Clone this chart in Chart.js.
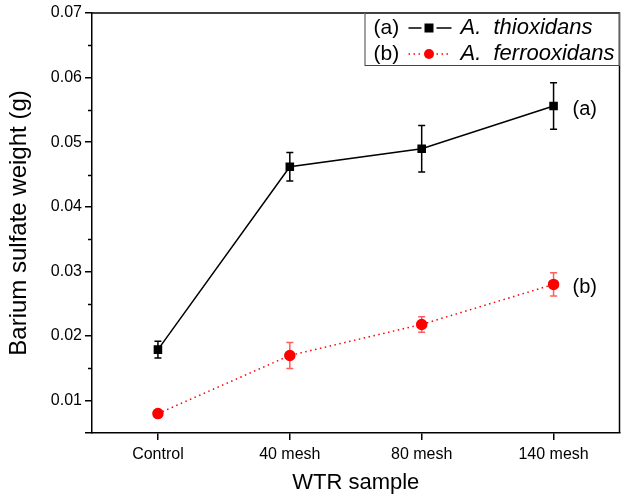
<!DOCTYPE html>
<html><head><meta charset="utf-8">
<script src="https://cdn.jsdelivr.net/npm/chart.js@4/dist/chart.umd.min.js"></script>
<style>html,body{margin:0;padding:0;background:#fff;}#wrap{width:626px;height:496px;}</style>
</head><body><div id="wrap"><canvas id="c" width="626" height="496"></canvas></div>
<script>
const categories = ['Control', '40 mesh', '80 mesh', '140 mesh'];
const thioValues = [0.0179, 0.0462, 0.0490, 0.0556];
const thioErrors = [0.0013, 0.0022, 0.0036, 0.0036];
const ferroValues = [0.0080, 0.0170, 0.0218, 0.0280];
const ferroErrors = [0.0003, 0.0020, 0.0012, 0.0018];
const seriesTags = ['(a)', '(b)'];
const seriesNames = ['A. thioxidans', 'A. ferrooxidans'];
const yMin = 0.005, yMax = 0.07, yMajor = 0.01, yMinor = 0.005;

const FONT = "'Liberation Sans', Arial, sans-serif";
const errs = [thioErrors, ferroErrors];
const errColors = ['#000', 'rgba(255,40,40,0.75)'];

const extras = {
  id: 'extras',
  beforeDatasetsDraw(chart) {
    const ctx = chart.ctx, ys = chart.scales.y;
    chart.data.datasets.forEach((ds, di) => {
      const meta = chart.getDatasetMeta(di);
      ctx.save();
      ctx.strokeStyle = errColors[di];
      ctx.lineWidth = 1.5;
      meta.data.forEach((pt, i) => {
        const v = ds.data[i], e = errs[di][i];
        const y1 = ys.getPixelForValue(v + e), y2 = ys.getPixelForValue(v - e);
        const x = pt.x, cw = 3.5;
        ctx.beginPath();
        ctx.moveTo(x, y1); ctx.lineTo(x, y2);
        ctx.moveTo(x - cw, y1); ctx.lineTo(x + cw, y1);
        ctx.moveTo(x - cw, y2); ctx.lineTo(x + cw, y2);
        ctx.stroke();
      });
      ctx.restore();
    });
  },
  afterDraw(chart) {
    const ctx = chart.ctx, a = chart.chartArea, ys = chart.scales.y;
    ctx.save();
    ctx.strokeStyle = '#000'; ctx.lineWidth = 1.5;
    ctx.beginPath();
    ctx.moveTo(a.left, a.top); ctx.lineTo(a.right, a.top); ctx.lineTo(a.right, a.bottom);
    ctx.stroke();
    for (let v = yMinor * 3; v < yMax; v += yMajor) {
      const y = Math.round(ys.getPixelForValue(v)) + 0.5;
      ctx.beginPath(); ctx.moveTo(a.left - 4, y); ctx.lineTo(a.left, y); ctx.stroke();
    }
    ctx.fillStyle = '#000';
    ctx.font = '20px ' + FONT;
    ctx.textBaseline = 'middle';
    chart.data.datasets.forEach((ds, di) => {
      const meta = chart.getDatasetMeta(di);
      const last = meta.data[meta.data.length - 1];
      ctx.fillText(seriesTags[di], last.x + 19, last.y + 3);
    });
    const bx = a.right - 255, by = a.top, bw = 255, bh = 53;
    ctx.fillStyle = '#fff';
    ctx.fillRect(bx, by, bw, bh);
    ctx.strokeStyle = '#444'; ctx.lineWidth = 1;
    ctx.strokeRect(bx + 0.5, by + 0.5, bw - 1, bh - 1);
    const rows = [by + 15, by + 41];
    rows.forEach((ry, di) => {
      ctx.fillStyle = '#000';
      ctx.font = '21px ' + FONT;
      ctx.fillText(seriesTags[di], bx + 9, ry);
      ctx.save();
      if (di === 0) {
        ctx.strokeStyle = '#000'; ctx.lineWidth = 1.5; ctx.setLineDash([]);
      } else {
        ctx.strokeStyle = '#ff0000'; ctx.lineWidth = 1.5; ctx.setLineDash([1.5, 3.5]);
      }
      ctx.beginPath();
      ctx.moveTo(bx + 44, ry); ctx.lineTo(bx + 57, ry);
      ctx.moveTo(bx + 72, ry); ctx.lineTo(bx + 87, ry);
      ctx.stroke();
      ctx.restore();
      if (di === 0) {
        ctx.fillStyle = '#000'; ctx.fillRect(bx + 60, ry - 4.5, 9, 9);
      } else {
        ctx.fillStyle = '#ff0000'; ctx.beginPath(); ctx.arc(bx + 64.5, ry, 5, 0, Math.PI * 2); ctx.fill();
      }
      ctx.fillStyle = '#000';
      ctx.font = 'italic 22px ' + FONT;
      ctx.fillText(seriesNames[di].replace('. ', '.  '), bx + 96, ry);
    });
    ctx.restore();
  }
};

new Chart(document.getElementById('c'), {
  type: 'line',
  data: {
    labels: categories,
    datasets: [
      { label: seriesNames[0], data: thioValues, borderColor: '#000', backgroundColor: '#000',
        borderWidth: 1.5, pointStyle: 'rect', pointRadius: 5, pointHoverRadius: 5, tension: 0 },
      { label: seriesNames[1], data: ferroValues, borderColor: '#ff0000', backgroundColor: '#ff0000',
        borderWidth: 1.5, borderDash: [1.5, 3.5], pointStyle: 'circle', pointRadius: 5, pointHoverRadius: 5, tension: 0 }
    ]
  },
  options: {
    responsive: false, animation: false,
    layout: { padding: { top: 13, right: 4, left: 0, bottom: 0 } },
    plugins: { legend: { display: false }, tooltip: { enabled: false } },
    scales: {
      x: {
        type: 'category', offset: true,
        afterFit(s) { s.height = 63; },
        grid: { drawOnChartArea: false, offset: false, tickLength: 7, color: '#000', lineWidth: 1.5 },
        border: { color: '#000', width: 1.5 },
        ticks: { color: '#000', font: { family: FONT, size: 16 }, padding: 5, maxRotation: 0 },
        title: { display: true, text: 'WTR sample', color: '#000', font: { family: FONT, size: 22 }, padding: { top: 1, bottom: 0 } }
      },
      y: {
        min: yMin, max: yMax,
        afterFit(s) { s.width = 92; },
        grid: { drawOnChartArea: false, tickLength: 7, color: '#000', lineWidth: 1.5 },
        border: { color: '#000', width: 1.5 },
        ticks: {
          stepSize: yMajor, color: '#000', font: { family: FONT, size: 16 }, padding: 3,
          callback: v => Math.abs(v / yMajor - Math.round(v / yMajor)) < 1e-6 ? v.toFixed(2) : ''
        },
        title: { display: true, text: 'Barium sulfate weight (g)', color: '#000', font: { family: FONT, size: 24 }, padding: { top: 5, bottom: 0 } }
      }
    }
  },
  plugins: [extras]
});
</script></body></html>
